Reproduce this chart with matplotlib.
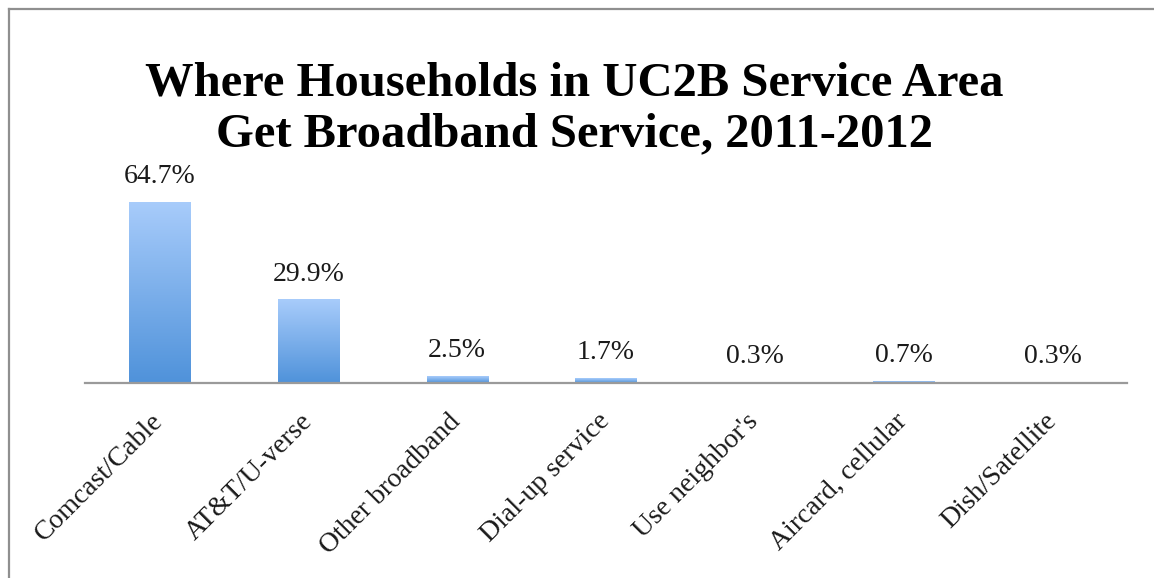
import matplotlib
matplotlib.use("Agg")
import matplotlib.pyplot as plt
import numpy as np
from matplotlib.colors import LinearSegmentedColormap
from matplotlib.lines import Line2D

categories = ["Comcast/Cable", "AT&T/U-verse", "Other broadband", "Dial-up service",
              "Use neighbor's", "Aircard, cellular", "Dish/Satellite"]
values = [64.7, 29.9, 2.5, 1.7, 0.3, 0.7, 0.3]
value_labels = ["64.7%", "29.9%", "2.5%", "1.7%", "0.3%", "0.7%", "0.3%"]
title = "Where Households in UC2B Service Area\nGet Broadband Service, 2011-2012"

W, H = 1154, 578
fig = plt.figure(figsize=(W / 100, H / 100), dpi=100)
fig.patch.set_facecolor("white")

font = "Liberation Serif"

# outer frame (left and top edges visible)
fig.add_artist(Line2D([8.5 / W, 8.5 / W], [0, 1 - 8.5 / H], transform=fig.transFigure,
                      color="#8f8f8f", lw=1.6))
fig.add_artist(Line2D([8.5 / W, 1], [1 - 8.5 / H, 1 - 8.5 / H], transform=fig.transFigure,
                      color="#8f8f8f", lw=1.6))

ax = fig.add_axes([85 / W, 1 - 383 / H, (1127 - 85) / W, (383 - 187) / H])
x = np.arange(len(categories))
ax.set_xlim(-0.5, len(categories) - 0.5)
ax.set_ylim(0, 70)

cmap = LinearSegmentedColormap.from_list("bar", ["#4f92da", "#a8ccfb"])
grad = np.linspace(0, 1, 256).reshape(-1, 1)
bars = ax.bar(x, values, width=0.41, color="none", edgecolor="none")
for b in bars:
    x0, y0, w, h = b.get_x(), b.get_y(), b.get_width(), b.get_height()
    if h <= 0:
        continue
    im = ax.imshow(grad, cmap=cmap, origin="lower", aspect="auto",
                   extent=(x0, x0 + w, y0, y0 + h), zorder=2)
    im.set_clip_path(b)

for xi, v, lab in zip(x, values, value_labels):
    ax.annotate(lab, (xi, v), xytext=(0, 13.5), textcoords="offset points",
                ha="center", va="baseline", fontsize=20, family=font, color="#1a1a1a")

for s in ["top", "right", "left"]:
    ax.spines[s].set_visible(False)
ax.spines["bottom"].set_color("#9a9a9a")
ax.spines["bottom"].set_linewidth(1.6)
ax.spines["bottom"].set_zorder(3)
ax.set_yticks([])
ax.set_xticks(x)
ax.set_xticklabels(categories, rotation=45, ha="right", va="center", rotation_mode="anchor",
                   fontsize=20, family=font, color="#1a1a1a")
ax.tick_params(axis="x", length=0, pad=25)

fig.text(0.498, 1 - 109 / H, title, ha="center", va="center", fontsize=35,
         fontweight="bold", family=font, linespacing=1.22, color="black")

fig.savefig("out.png", dpi=100, facecolor="white")
